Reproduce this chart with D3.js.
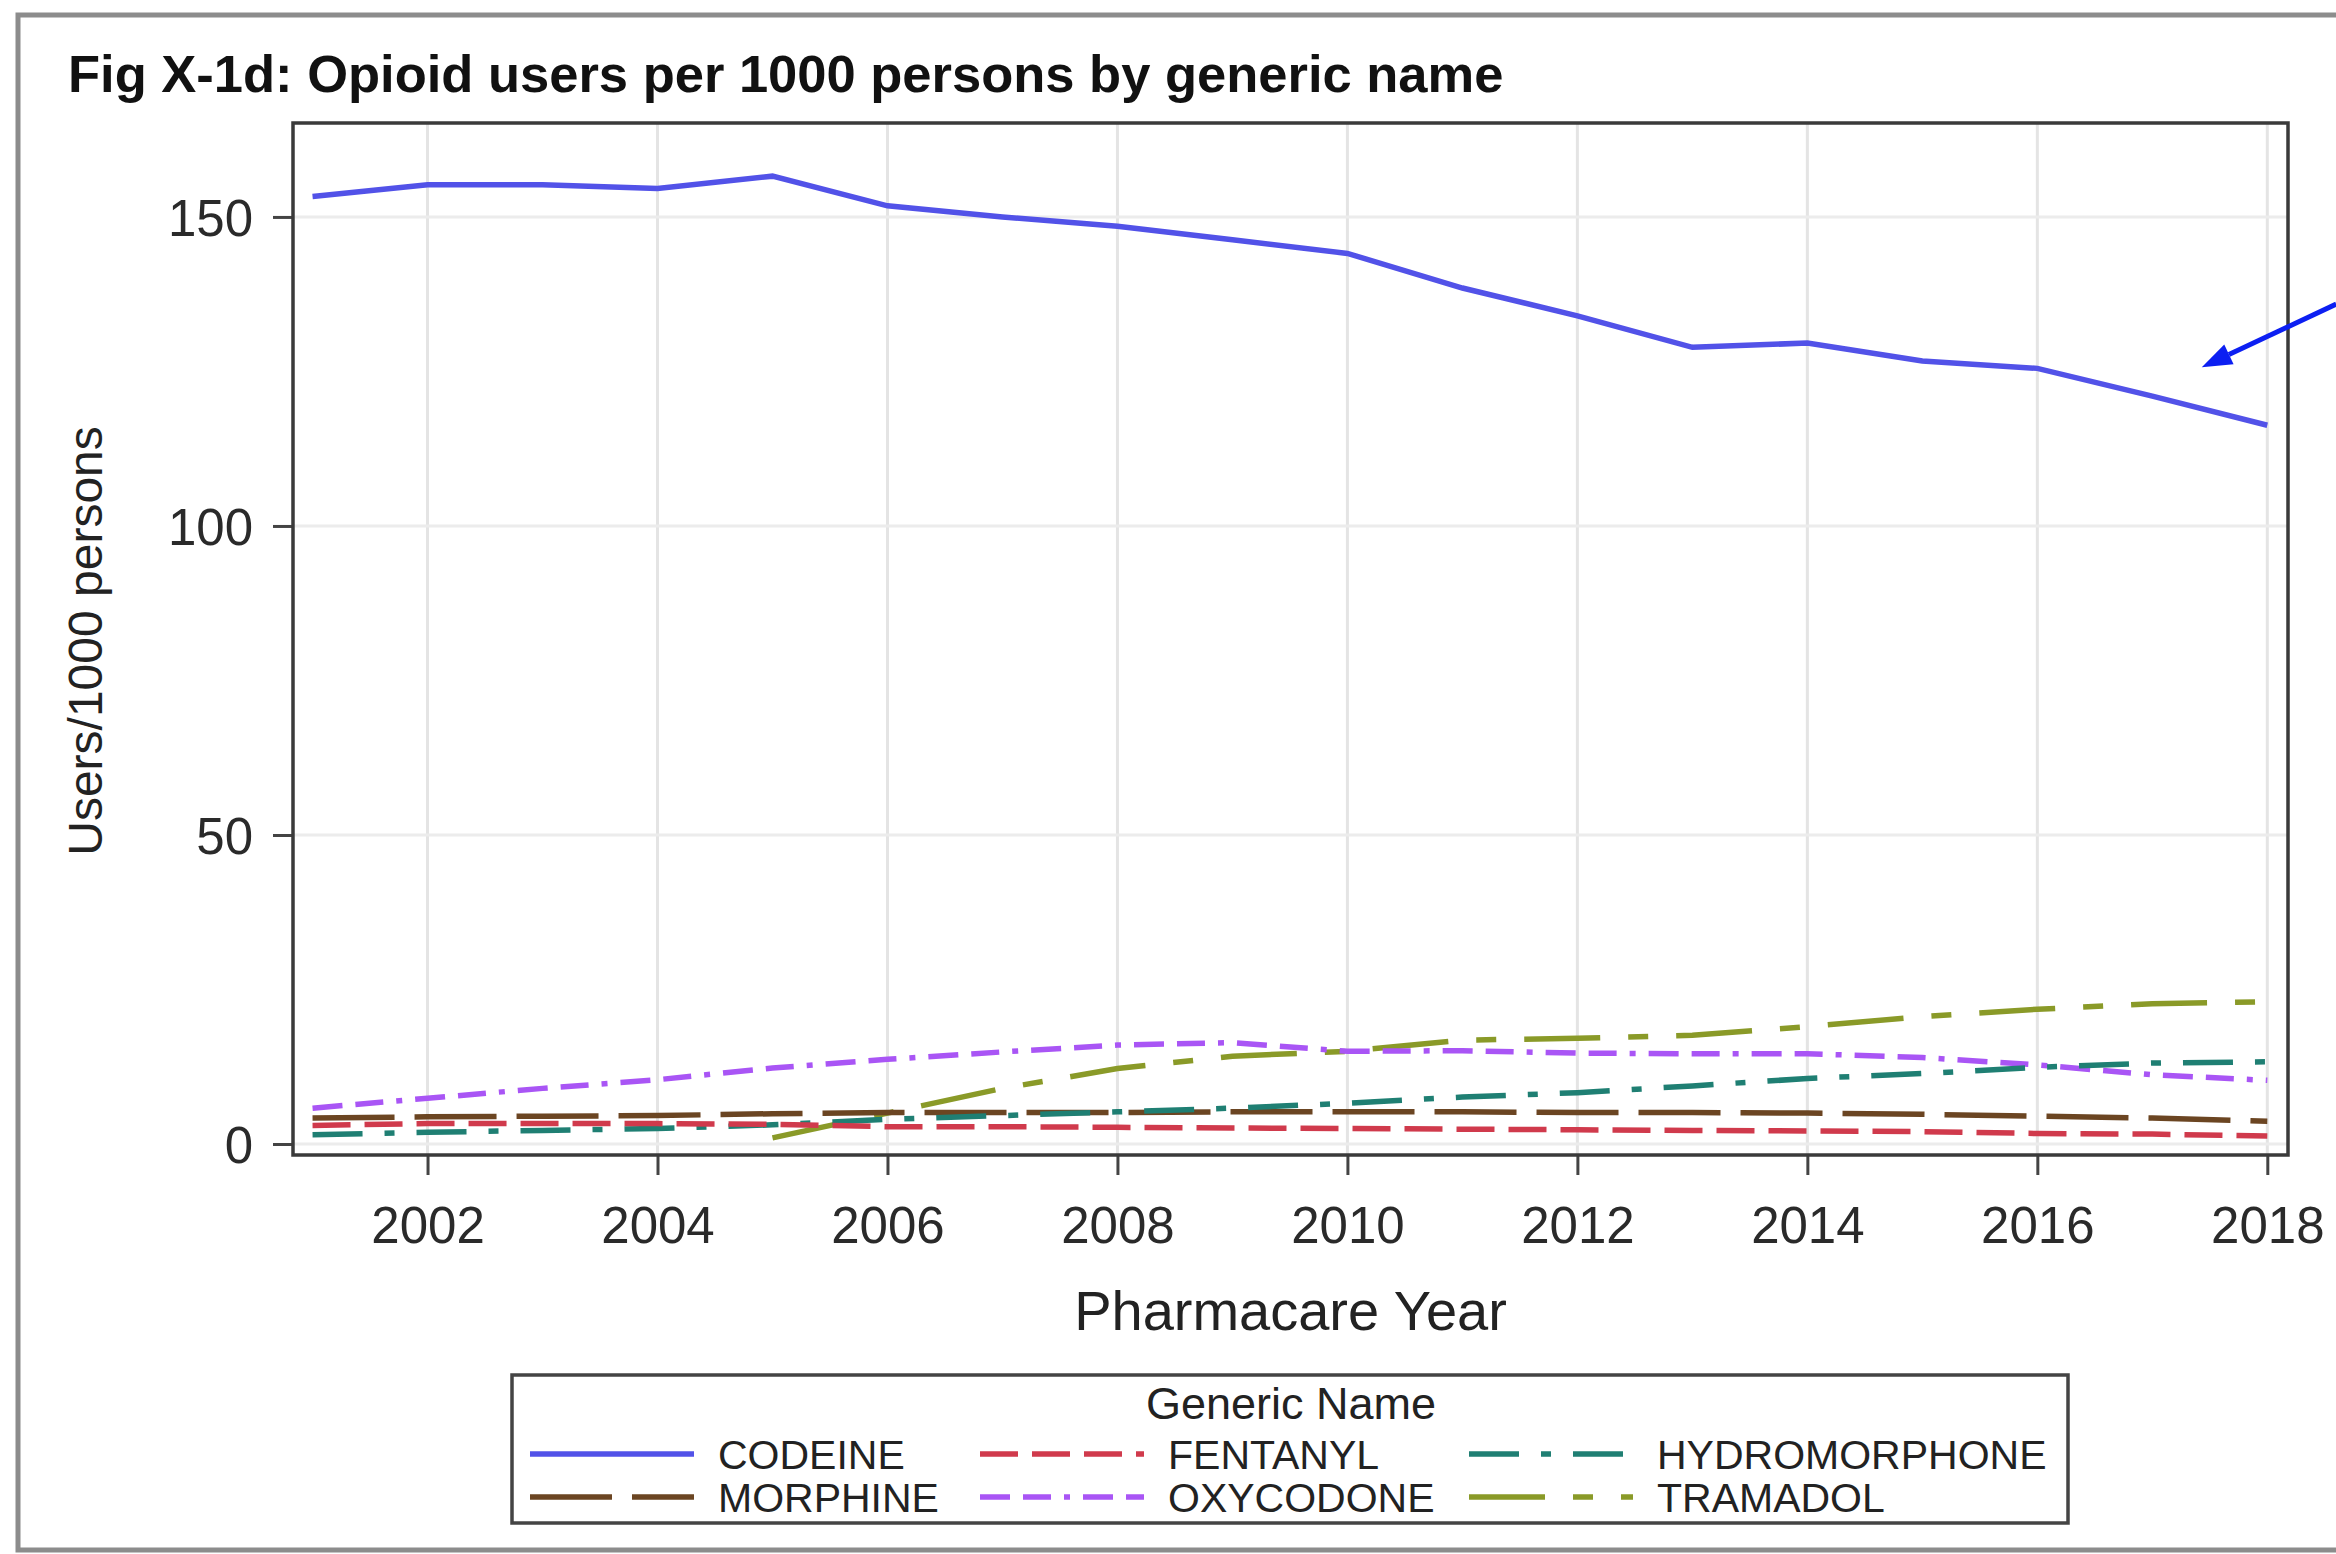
<!DOCTYPE html>
<html>
<head>
<meta charset="utf-8">
<script src="https://cdnjs.cloudflare.com/ajax/libs/d3/7.8.5/d3.min.js"></script>
<style>
  body { margin: 0; background: #fff; }
  text { font-family: "Liberation Sans", Arial, sans-serif; }
</style>
</head>
<body>
<div id="chart"></div>
<script>
// data
var years = [2001, 2002, 2003, 2004, 2005, 2006, 2007, 2008, 2009, 2010, 2011, 2012, 2013, 2014, 2015, 2016, 2017, 2018];
var codeine = [153.3, 155.2, 155.2, 154.6, 156.6, 151.8, 150.0, 148.5, 146.3, 144.1, 138.5, 134.0, 128.9, 129.6, 126.7, 125.5, 121.0, 116.3];
var fentanyl = [3.0, 3.3, 3.3, 3.3, 3.2, 2.8, 2.8, 2.7, 2.6, 2.5, 2.4, 2.3, 2.2, 2.1, 2.0, 1.7, 1.6, 1.3];
var hydromorphone = [1.5, 1.9, 2.2, 2.5, 3.1, 4.0, 4.6, 5.2, 5.8, 6.6, 7.6, 8.3, 9.4, 10.6, 11.4, 12.4, 13.1, 13.3];
var morphine = [4.2, 4.4, 4.5, 4.6, 4.9, 5.1, 5.1, 5.1, 5.2, 5.2, 5.2, 5.1, 5.1, 5.0, 4.8, 4.5, 4.2, 3.7];
var oxycodone = [5.8, 7.4, 9.0, 10.4, 12.3, 13.7, 14.9, 16.0, 16.4, 15.0, 15.1, 14.7, 14.6, 14.6, 14.0, 12.8, 11.2, 10.3];
var tramadol = [null, null, null, null, 1.0, 5.0, 9.0, 12.2, 14.2, 15.0, 16.8, 17.1, 17.6, 19.0, 20.6, 21.8, 22.7, 23.0];

var xTicks = [2002, 2004, 2006, 2008, 2010, 2012, 2014, 2016, 2018];
var yTicks = [0, 50, 100, 150];

// arrow annotation (tail -> tip) in data units
var arrowYears = [2018.6, 2017.43];
var arrowValues = [135.9, 125.7];

var svgWidth = 2336;
var svgHeight = 1554;

var margin = {
    top: 123,
    right: 48,
    bottom: 399,
    left: 293
};

var width = svgWidth - margin.left - margin.right;
var height = svgHeight - margin.top - margin.bottom;

var series = [
    { name: "CODEINE", values: codeine, color: "#5252e8", dash: null },
    { name: "FENTANYL", values: fentanyl, color: "#d03a4c", dash: "38,14" },
    { name: "HYDROMORPHONE", values: hydromorphone, color: "#1f7f73", dash: "50,22,10,22" },
    { name: "MORPHINE", values: morphine, color: "#6b4522", dash: "82,20" },
    { name: "OXYCODONE", values: oxycodone, color: "#a955f5", dash: "30,13,28,13,6,13" },
    { name: "TRAMADOL", values: tramadol, color: "#8a9a28", dash: "76,28,20,28" }
];

var svg = d3.select("#chart")
    .append("svg")
    .attr("width", svgWidth)
    .attr("height", svgHeight);

// outer border (right side cropped off in the original)
svg.append("path")
    .attr("d", `M${svgWidth},15 L18,15 L18,1550 L${svgWidth},1550`)
    .attr("fill", "none")
    .attr("stroke", "#8c8c8c")
    .attr("stroke-width", 5);

svg.append("text")
    .attr("x", 68)
    .attr("y", 92)
    .text("Fig X-1d: Opioid users per 1000 persons by generic name")
    .style("font-weight", "bold")
    .style("font-size", "52.5px")
    .attr("fill", "#111");

var chartGroup = svg.append("g")
    .attr("transform", `translate(${margin.left}, ${margin.top})`);

// Step 1: scales
var xLinearScale = d3.scaleLinear()
    .domain([2000.83, 2018.18])
    .range([0, width]);

var yLinearScale = d3.scaleLinear()
    .domain([-1.78, 165.2])
    .range([height, 0]);

// Step 2: gridlines
chartGroup.selectAll(".vgrid")
    .data(xTicks)
    .enter()
    .append("line")
    .attr("x1", d => xLinearScale(d))
    .attr("x2", d => xLinearScale(d))
    .attr("y1", 0)
    .attr("y2", height)
    .attr("stroke", "#e4e4e4")
    .attr("stroke-width", 3);

chartGroup.selectAll(".hgrid")
    .data(yTicks)
    .enter()
    .append("line")
    .attr("x1", 0)
    .attr("x2", width)
    .attr("y1", d => yLinearScale(d))
    .attr("y2", d => yLinearScale(d))
    .attr("stroke", "#ececec")
    .attr("stroke-width", 3);

// Step 3: axes
var bottomAxis = d3.axisBottom(xLinearScale).tickValues(xTicks).tickFormat(d3.format("d")).tickSize(20).tickPadding(32);
var leftAxis = d3.axisLeft(yLinearScale).tickValues(yTicks).tickSize(20).tickPadding(20);

var xAxisG = chartGroup.append("g")
    .attr("transform", `translate(0, ${height})`)
    .call(bottomAxis);

var yAxisG = chartGroup.append("g")
    .call(leftAxis);

[xAxisG, yAxisG].forEach(function (g) {
    g.select(".domain").remove();
    g.selectAll(".tick line").attr("stroke", "#444").attr("stroke-width", 3);
    g.selectAll(".tick text")
        .attr("fill", "#2a2a2a")
        .style("font-size", "51px")
        .style("font-family", "'Liberation Sans', Arial, sans-serif");
});
yAxisG.selectAll(".tick text").attr("dy", "0.36em");

// Step 4: lines
var lineGen = d3.line()
    .defined(d => d.v != null)
    .x(d => xLinearScale(d.year))
    .y(d => yLinearScale(d.v));

var plotArea = chartGroup.append("g");

series.slice().reverse().forEach(function (s) {
    var pts = years.map((yr, i) => ({ year: yr, v: s.values[i] }));
    plotArea.append("path")
        .datum(pts)
        .attr("d", lineGen)
        .attr("fill", "none")
        .attr("stroke", s.color)
        .attr("stroke-width", 5.5)
        .attr("stroke-dasharray", s.dash);
});

// frame
chartGroup.append("rect")
    .attr("x", 0)
    .attr("y", 0)
    .attr("width", width)
    .attr("height", height)
    .attr("fill", "none")
    .attr("stroke", "#3a3a3a")
    .attr("stroke-width", 3.5);

// Step 5: axis labels
svg.append("text")
    .attr("x", margin.left + width / 2)
    .attr("y", 1330)
    .attr("text-anchor", "middle")
    .style("font-size", "56px")
    .attr("fill", "#222")
    .text("Pharmacare Year");

svg.append("text")
    .attr("transform", "translate(102, 641) rotate(-90)")
    .attr("text-anchor", "middle")
    .style("font-size", "48px")
    .attr("fill", "#222")
    .text("Users/1000 persons");

// arrow annotation
var ax0 = margin.left + xLinearScale(arrowYears[0]);
var ay0 = margin.top + yLinearScale(arrowValues[0]);
var ax1 = margin.left + xLinearScale(arrowYears[1]);
var ay1 = margin.top + yLinearScale(arrowValues[1]);
var ang = Math.atan2(ay1 - ay0, ax1 - ax0);
var headLen = 30, headW = 11;
var bx = ax1 - headLen * Math.cos(ang), by = ay1 - headLen * Math.sin(ang);
svg.append("line")
    .attr("x1", ax0).attr("y1", ay0)
    .attr("x2", bx).attr("y2", by)
    .attr("stroke", "#0c1ff2")
    .attr("stroke-width", 5);
svg.append("polygon")
    .attr("points", [
        [ax1, ay1],
        [bx + headW * Math.sin(ang), by - headW * Math.cos(ang)],
        [bx - headW * Math.sin(ang), by + headW * Math.cos(ang)]
    ].map(p => p.join(",")).join(" "))
    .attr("fill", "#0c1ff2");

// Step 6: legend
var legend = svg.append("g");
legend.append("rect")
    .attr("x", 512)
    .attr("y", 1375)
    .attr("width", 1556)
    .attr("height", 148)
    .attr("fill", "#fff")
    .attr("stroke", "#444")
    .attr("stroke-width", 3.5);

legend.append("text")
    .attr("x", 1291)
    .attr("y", 1419)
    .attr("text-anchor", "middle")
    .style("font-size", "45px")
    .attr("fill", "#222")
    .text("Generic Name");

var legendCols = [530, 980, 1469];
var legendRows = [1454, 1497];

var items = legend.selectAll(".item")
    .data(series)
    .enter()
    .append("g")
    .attr("transform", (d, i) => `translate(${legendCols[i % 3]}, ${legendRows[Math.floor(i / 3)]})`);

items.append("line")
    .attr("x1", 0)
    .attr("x2", 164)
    .attr("stroke", d => d.color)
    .attr("stroke-width", 5.5)
    .attr("stroke-dasharray", d => d.dash);

items.append("text")
    .attr("x", 188)
    .attr("dy", "0.36em")
    .style("font-size", "41px")
    .attr("fill", "#222")
    .text(d => d.name);
</script>
</body>
</html>
